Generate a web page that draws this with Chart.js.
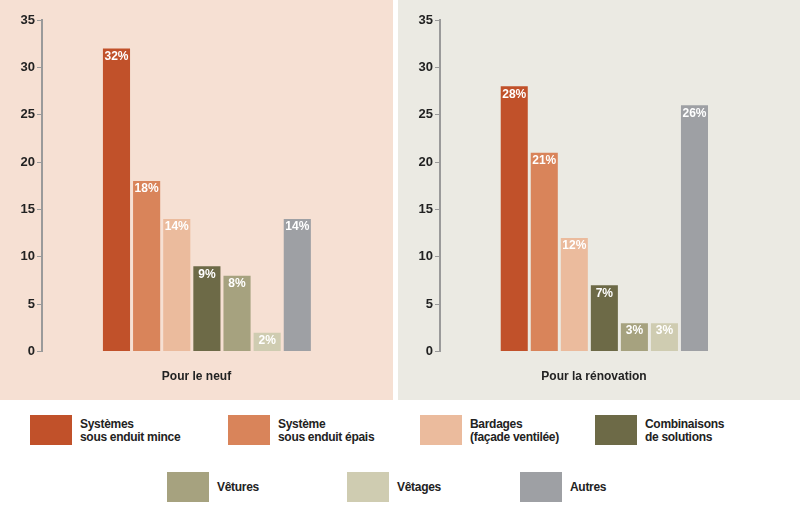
<!DOCTYPE html>
<html><head><meta charset="utf-8">
<script src="https://cdn.jsdelivr.net/npm/chart.js@4/dist/chart.umd.min.js"></script>
<style>
body{margin:0;width:800px;height:509px;background:#fff;font-family:"Liberation Sans",Arial,sans-serif;position:relative;overflow:hidden}
.panel{position:absolute;top:0;height:400px}
#p1{left:0;width:393px;background:#f6e0d3}
#p2{left:398px;width:402px;background:#ebeae3}
.sw{position:absolute;width:42px;height:30px}
.lt{position:absolute;font-size:12px;font-weight:bold;line-height:13px;color:#222;letter-spacing:-0.3px}
</style></head><body>
<div class="panel" id="p1"><canvas id="c1" width="393" height="400"></canvas></div>
<div class="panel" id="p2"><canvas id="c2" width="402" height="400"></canvas></div>
<div id="legend"></div>
<script>
const categories = ['Systèmes\nsous enduit mince', 'Système\nsous enduit épais', 'Bardages\n(façade ventilée)', 'Combinaisons\nde solutions', 'Vêtures', 'Vêtages', 'Autres'];
const colors = ['#c1512a', '#d9845a', '#ebbb9d', '#6d6a47', '#a6a27f', '#cfccb1', '#9ea0a4'];
const neufValues = [32, 18, 14, 9, 8, 2, 14];
const renoValues = [28, 21, 12, 7, 3, 3, 26];
const yTicks = [0, 5, 10, 15, 20, 25, 30, 35];

const labelPlugin = {
    id: 'barLabels',
    afterDatasetsDraw(chart) {
        const ctx = chart.ctx;
        const meta = chart.getDatasetMeta(0);
        ctx.save();
        ctx.font = 'bold 12px "Liberation Sans"';
        ctx.fillStyle = '#fff';
        ctx.textAlign = 'center';
        ctx.textBaseline = 'top';
        meta.data.forEach((bar, i) => {
            ctx.fillText(chart.data.datasets[0].data[i].y + '%', bar.x, bar.y + 2);
        });
        ctx.restore();
    }
};

function makeChart(id, values, title, padRight) {
    new Chart(document.getElementById(id), {
        type: 'bar',
        data: {
            datasets: [{ data: values.map((v, i) => ({ x: i, y: v })), backgroundColor: colors, categoryPercentage: 1, barPercentage: 0.9 }],
        },
        options: {
            responsive: false, animation: false,
            layout: { padding: { left: 10, right: padRight, top: 20, bottom: 12 } },
            plugins: { legend: { display: false }, tooltip: { enabled: false } },
            scales: {
                x: {
                    type: 'linear', min: -1.19, max: 6.5,
                    grid: { display: false },
                    border: { display: false },
                    ticks: { display: false },
                    title: { display: true, text: title, color: '#222', font: { size: 12, weight: 'bold' }, padding: { top: 10 } },
                },
                y: {
                    min: 0, max: 35,
                    afterBuildTicks: ax => { ax.ticks = yTicks.map(v => ({ value: v })); },
                    afterFit: ax => { ax.width = 32; },
                    grid: { drawOnChartArea: false, drawTicks: true, tickLength: 5, color: '#9a9a9a' },
                    border: { color: '#9a9a9a', width: 2 },
                    ticks: { color: '#222', font: { size: 13, weight: 'bold' }, padding: 2 },
                },
            },
        },
        plugins: [labelPlugin],
    });
}
makeChart('c1', neufValues, 'Pour le neuf', 42);
makeChart('c2', renoValues, 'Pour la rénovation', 52);

const legendPos = [[30, 415], [228, 415], [420, 415], [595, 415], [167, 472], [347, 472], [520, 472]];
const leg = document.getElementById('legend');
categories.forEach((c, i) => {
    const [x, y] = legendPos[i];
    const sw = document.createElement('div');
    sw.className = 'sw';
    sw.style.left = x + 'px'; sw.style.top = y + 'px'; sw.style.background = colors[i];
    leg.appendChild(sw);
    const t = document.createElement('div');
    t.className = 'lt';
    t.style.left = (x + 50) + 'px';
    const lines = c.split('\n');
    t.style.top = (y + (lines.length > 1 ? 3 : 9)) + 'px';
    t.innerHTML = lines.join('<br>');
    leg.appendChild(t);
});
</script>
</body></html>
